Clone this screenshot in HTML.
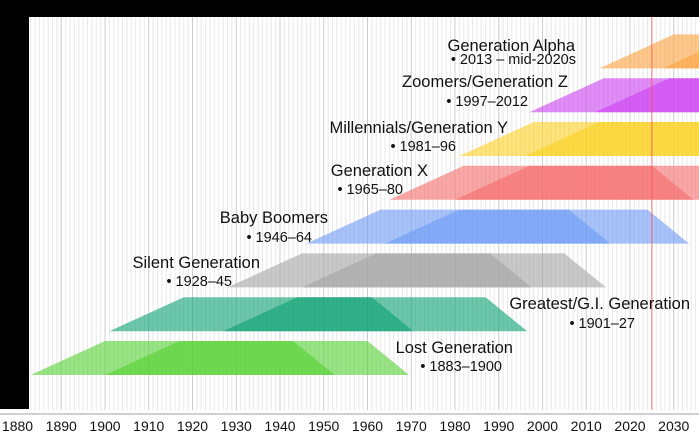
<!DOCTYPE html>
<html><head><meta charset="utf-8"><style>
html,body{margin:0;padding:0;background:#fff}
svg{display:block;font-family:"Liberation Sans",Arial,sans-serif}
</style></head><body>
<svg id="chart" width="699" height="437" viewBox="0 0 699 437">
<g id="grid"></g>
<g id="bands"></g>
<g id="labels"></g>
<g id="axis"></g>
</svg>
<script>
const names = ["Lost Generation","Greatest/G.I. Generation","Silent Generation","Baby Boomers","Generation X","Millennials/Generation Y","Zoomers/Generation Z","Generation Alpha"];
const rangeLabels = ["1883–1900","1901–27","1928–45","1946–64","1965–80","1981–96","1997–2012","2013 – mid-2020s"];
const startYears = [1883,1901,1928,1946,1965,1981,1997,2013];
const endYears = [1900,1927,1945,1964,1980,1996,2012,2027.5];
const colors = ["#53d030","#0aa070","#a4a4a4","#6a9af5","#f56a6a","#fcd020","#cc40f2","#fba23e"];
const tickYears = [1880,1890,1900,1910,1920,1930,1940,1950,1960,1970,1980,1990,2000,2010,2020,2030];
const currentYear = 2025;
const labelPos = [[513,353],[690,309],[260,268],[328,223],[428,176],[508,133],[568,87],[575,51]];
const yearPos = [[502,371],[635,328],[232,286],[312,242],[403,194],[456,151],[528,106],[576,64]];

const NS="http://www.w3.org/2000/svg";
function x(year){return 105+(year-1900)*4.375;}
function bandTop(i){return 341-i*43.8;}
const H=34;
function mk(tag,attrs,parent){const e=document.createElementNS(NS,tag);for(const k in attrs)e.setAttribute(k,attrs[k]);parent.appendChild(e);return e;}

const grid=document.getElementById('grid');
for(let yr=1878;yr<=2040;yr++){
  const major=yr%10===0;
  const l=mk('line',{x1:x(yr),x2:x(yr),y1:17,y2:410,stroke:major?'#cccccc':'#e8e8e8','stroke-width':1},grid);
  
  
}

const bands=document.getElementById('bands');
function trap(s,t,fill,parent){
  const b=t+H;
  const pts=[[x(s),b],[x(s+17),t],[x(s+60),t],[x(s+69.5),b]].map(p=>p.join(',')).join(' ');
  return mk('polygon',{points:pts,fill:fill,'fill-opacity':0.6},parent);
}
startYears.forEach((s,i)=>{
  const g=mk('g',{},bands);
  
  
  const t=bandTop(i);
  const a=trap(s,t,colors[i],g);
  
  
  const b=trap(endYears[i],t,colors[i],g);
  
  
});

const red=mk('line',{x1:x(currentYear),x2:x(currentYear),y1:17,y2:410,stroke:'#ff5050','stroke-opacity':0.8,'stroke-width':1},bands);



const labels=document.getElementById('labels');
names.forEach((n,i)=>{
  const t=mk('text',{x:labelPos[i][0],y:labelPos[i][1],'text-anchor':'end','font-size':16.5,fill:'#111'},labels);
  t.textContent=n;
  
  
  const r=mk('text',{x:yearPos[i][0],y:yearPos[i][1],'text-anchor':'end','font-size':14.5,fill:'#111'},labels);
  r.textContent='• '+rangeLabels[i];
  
  
});

const axis=document.getElementById('axis');
const topFrame=mk('rect',{x:0,y:0,width:699,height:17,fill:'#000'},axis);


const leftFrame=mk('rect',{x:0,y:0,width:29,height:409,fill:'#000'},axis);


const base=mk('rect',{x:0,y:413,width:699,height:2,fill:'#d0d0d0'},axis);


tickYears.forEach(yr=>{
  const t=mk('text',{x:x(yr),y:431,'text-anchor':'middle','font-size':14,fill:'#111'},axis);
  t.textContent=yr;
  
  
});
</script>
</body></html>
